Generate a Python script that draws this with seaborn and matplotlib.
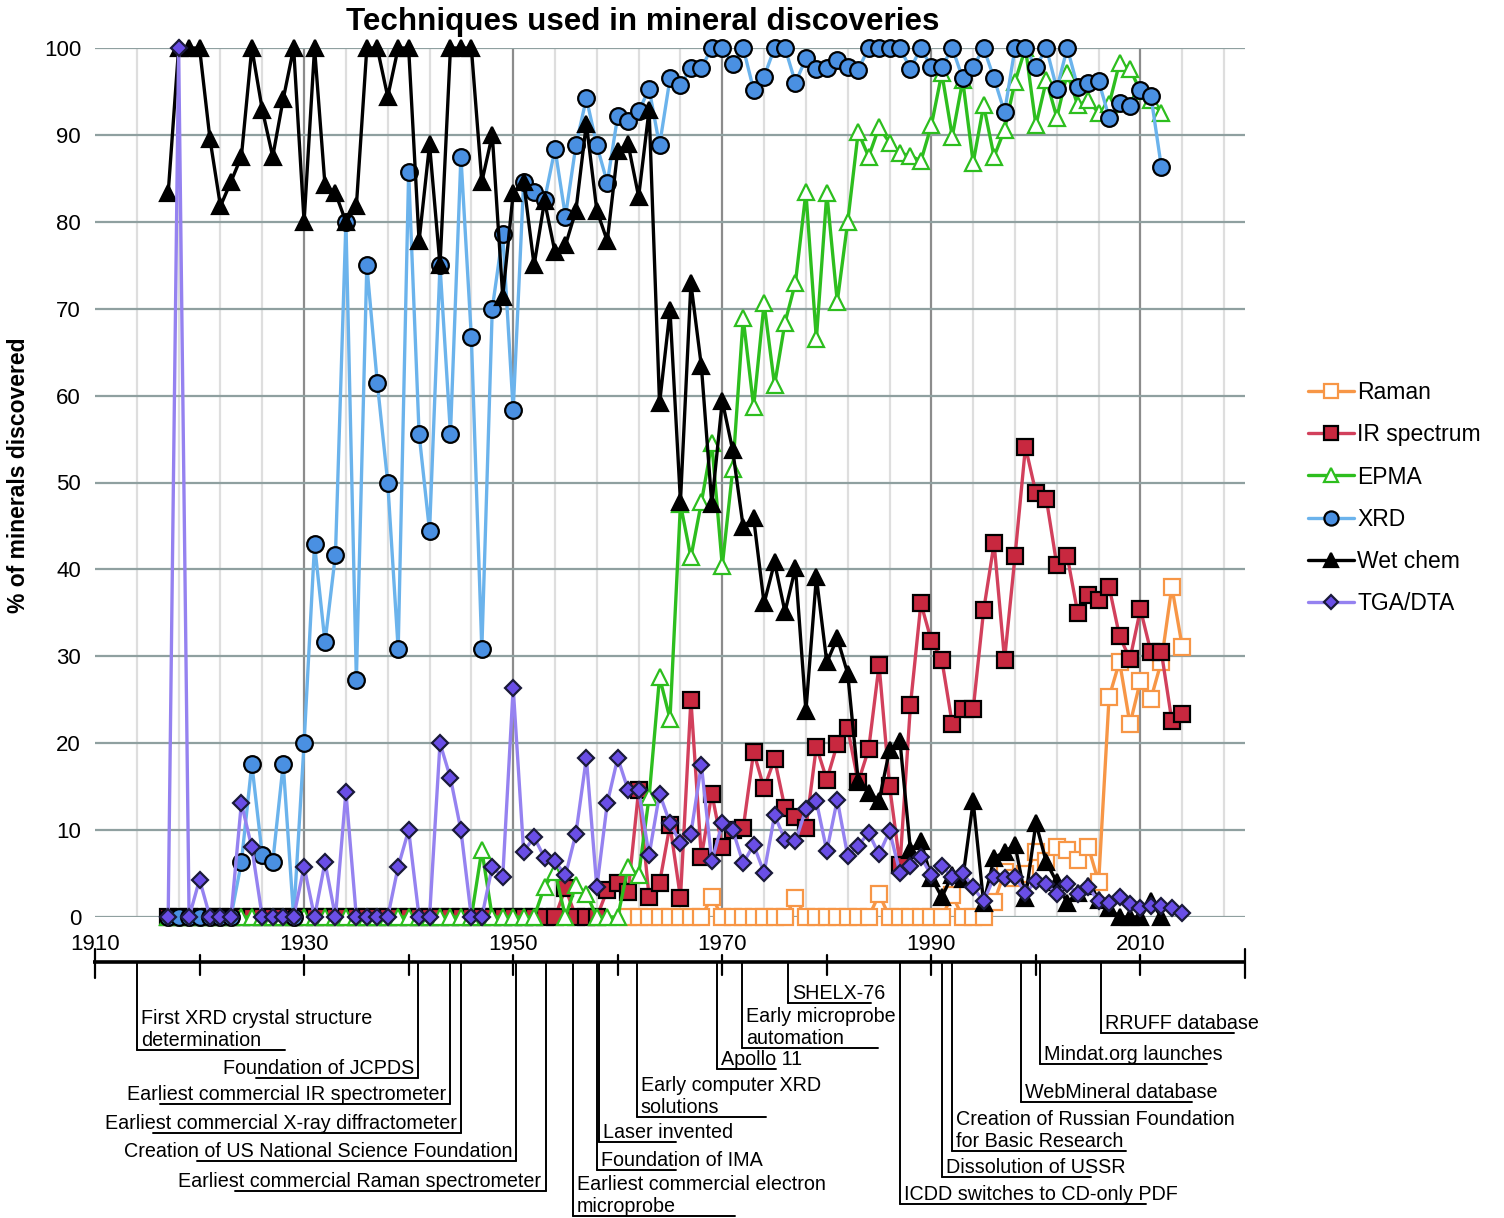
import matplotlib
matplotlib.use("Agg")
import matplotlib.pyplot as plt
from matplotlib.lines import Line2D
import pandas as pd
import seaborn as sns

# ---------------------------------------------------------------- data
years = list(range(1917, 2015))        # IR spectrum, TGA/DTA
years_to_2012 = list(range(1917, 2013))  # Wet chem, XRD, EPMA
raman_years = list(range(1961, 2015))

wet_chem = [83.3, 100, 100, 100, 89.5, 81.8, 84.6, 87.5, 100, 92.9,
            87.5, 94.1, 100, 80, 100, 84.2, 83.3, 80, 81.8, 100,
            100, 94.4, 100, 100, 77.8, 88.9, 75, 100, 100, 100,
            84.6, 90, 71.4, 83.3, 84.6, 75, 82.4, 76.5, 77.3, 81.3,
            91.3, 81.3, 77.8, 88.2, 88.9, 82.9, 92.9, 59.1, 69.8, 47.8,
            72.9, 63.4, 47.5, 59.4, 53.7, 44.9, 45.9, 36.1, 40.8, 35.1,
            40.2, 23.7, 39.1, 29.3, 32.1, 28.0, 15.7, 14.3, 13.4, 19.2,
            20.2, 7.7, 8.7, 4.5, 2.3, 4.8, 4.4, 13.3, 1.6, 6.8,
            7.5, 8.3, 2.2, 10.8, 6.3, 4.0, 1.6, 2.8, 3.6, 2.0,
            1.0, 0, 0, 0, 1.8, 0]

xrd = [0, 0, 0, 0, 0, 0, 0, 6.3, 17.6, 7.1,
       6.3, 17.6, 0, 20, 42.9, 31.6, 41.7, 80, 27.3, 75,
       61.5, 50, 30.8, 85.7, 55.6, 44.4, 75, 55.6, 87.5, 66.7,
       30.8, 70, 78.6, 58.3, 84.6, 83.4, 82.5, 88.4, 80.6, 88.8,
       94.2, 88.8, 84.5, 92.2, 91.6, 92.7, 95.3, 88.8, 96.5, 95.7,
       97.7, 97.7, 100, 100, 98.2, 100, 95.2, 96.7, 100, 100,
       96.0, 98.8, 97.6, 97.7, 98.6, 97.8, 97.5, 100, 100, 100,
       100, 97.6, 100, 97.8, 97.8, 100, 96.5, 97.8, 100, 96.5,
       92.6, 100, 100, 97.8, 100, 95.3, 100, 95.5, 96.0, 96.2,
       92.0, 93.7, 93.3, 95.2, 94.5, 86.3]

epma = [0, 0, 0, 0, 0, 0, 0, 0, 0, 0,
        0, 0, 0, 0, 0, 0, 0, 0, 0, 0,
        0, 0, 0, 0, 0, 0, 0, 0, 0, 0,
        7.7, 0, 0, 0, 0, 0, 3.5, 5.2, 0, 3.7,
        2.7, 0, 0, 0, 5.8, 4.8, 13.8, 27.6, 22.8, 47.5,
        41.4, 47.7, 54.5, 40.4, 51.5, 68.9, 58.7, 70.6, 61.2, 68.4,
        73.0, 83.4, 66.5, 83.3, 70.8, 80.0, 90.3, 87.5, 90.9, 89.1,
        87.9, 87.6, 87.0, 91.1, 97.1, 89.8, 96.3, 86.8, 93.4, 87.5,
        90.6, 96.1, 100, 91.1, 96.3, 92.0, 97.1, 93.4, 94.0, 92.5,
        93.5, 98.3, 97.6, 95.0, 94.0, 92.5]

ir_spectrum = [0, 0, 0, 0, 0, 0, 0, 0, 0, 0,
               0, 0, 0, 0, 0, 0, 0, 0, 0, 0,
               0, 0, 0, 0, 0, 0, 0, 0, 0, 0,
               0, 0, 0, 0, 0, 0, 0, 0, 3.3, 0,
               0, 0, 3.1, 3.9, 2.9, 14.6, 2.3, 3.9, 10.6, 2.2,
               25.0, 6.9, 14.2, 8.1, 10.0, 10.2, 19.0, 14.8, 18.2, 12.5,
               11.5, 10.2, 19.6, 15.8, 19.9, 21.7, 15.5, 19.3, 29.0, 15.1,
               6.0, 24.4, 36.1, 31.8, 29.6, 22.2, 23.9, 23.9, 35.3, 43.0,
               29.6, 41.5, 54.1, 48.8, 48.1, 40.5, 41.5, 35.0, 37.1, 36.5,
               38.0, 32.3, 29.7, 35.4, 30.5, 30.5, 22.6, 23.4]

raman = [0, 0, 0, 0, 0, 0, 0, 0, 2.3, 0,
         0, 0, 0, 0, 0, 0, 2.2, 0, 0, 0,
         0, 0, 0, 0, 2.6, 0, 0, 0, 0, 0,
         0, 2.5, 0, 0, 0, 1.7, 5.2, 4.5, 5.0, 7.5,
         6.5, 8.0, 7.7, 6.6, 8.1, 4.0, 25.3, 29.4, 22.2, 27.2,
         25.1, 29.4, 38.0, 31.1]

tga_dta = [0, 100, 0, 4.3, 0, 0, 0, 13.1, 8.0, 0,
           0, 0, 0, 5.8, 0, 6.3, 0, 14.4, 0, 0,
           0, 0, 5.8, 10.0, 0, 0, 20.0, 16.0, 10.0, 0,
           0, 5.8, 4.6, 26.4, 7.5, 9.2, 6.8, 6.4, 4.8, 9.6,
           18.3, 3.4, 13.1, 18.3, 14.6, 14.6, 7.1, 14.2, 10.8, 8.5,
           9.6, 17.5, 6.4, 10.8, 10.0, 6.2, 8.3, 5.1, 11.7, 8.9,
           8.7, 12.4, 13.3, 7.6, 13.5, 7.0, 8.2, 9.7, 7.2, 9.9,
           5.1, 5.9, 6.9, 4.8, 5.9, 4.6, 5.1, 3.4, 1.8, 4.6,
           4.5, 4.6, 2.8, 4.1, 3.8, 2.6, 3.8, 2.6, 3.5, 1.8,
           1.6, 2.3, 1.5, 1.0, 1.3, 1.3, 1.0, 0.5]

series_names = ["Raman", "IR spectrum", "EPMA", "XRD", "Wet chem", "TGA/DTA"]
series_values = [raman, ir_spectrum, epma, xrd, wet_chem, tga_dta]
series_years = [raman_years, years, years_to_2012, years_to_2012, years_to_2012, years]

# timeline of events below the chart
event_years = [1914.0, 1940.9, 1944.0, 1945.0, 1950.3, 1953.1, 1955.7, 1958.0,
               1958.2, 1961.8, 1969.5, 1971.9, 1976.3, 1987.0, 1991.0, 1992.0,
               1998.6, 2000.4, 2006.2]
event_labels = ["First XRD crystal structure\ndetermination",
                "Foundation of JCPDS",
                "Earliest commercial IR spectrometer",
                "Earliest commercial X-ray diffractometer",
                "Creation of US National Science Foundation",
                "Earliest commercial Raman spectrometer",
                "Earliest commercial electron\nmicroprobe",
                "Foundation of IMA",
                "Laser invented",
                "Early computer XRD\nsolutions",
                "Apollo 11",
                "Early microprobe\nautomation",
                "SHELX-76",
                "ICDD switches to CD-only PDF",
                "Dissolution of USSR",
                "Creation of Russian Foundation\nfor Basic Research",
                "WebMineral database",
                "Mindat.org launches",
                "RRUFF database"]

# ---------------------------------------------------------------- layout / style
event_side = ["R", "L", "L", "L", "L", "L", "R", "R", "R", "R",
              "R", "R", "R", "R", "R", "R", "R", "R", "R"]
event_rule_y = [1050, 1078, 1104, 1133, 1161, 1191, 1216, 1170, 1142, 1117,
                1069, 1048, 1003, 1204, 1177, 1151, 1102, 1064, 1033]
event_rule_end = [1928.2, 1925.4, 1916.2, 1915.5, 1919.8, 1923.4, 1971.2, 1965.6,
                  1965.6, 1974.2, 1975.1, 1984.9, 1984.2, 2010.5, 2005.3, 2008.6,
                  2014.9, 2016.4, 2018.9]

styles = {
    "Raman":       dict(color="#F79646", marker="s", markersize=11.5,
                        markerfacecolor="white", markeredgecolor="#F79646", z=3),
    "IR spectrum": dict(color="#D2405C", marker="s", markersize=11.5,
                        markerfacecolor="#C8283F", markeredgecolor="black", z=4),
    "EPMA":        dict(color="#2DBE1E", marker="^", markersize=12,
                        markerfacecolor="white", markeredgecolor="#2DBE1E", z=5),
    "XRD":         dict(color="#6BB3EC", marker="o", markersize=12,
                        markerfacecolor="#4A90E2", markeredgecolor="black", z=6),
    "Wet chem":    dict(color="black", marker="^", markersize=12,
                        markerfacecolor="black", markeredgecolor="black", z=7),
    "TGA/DTA":     dict(color="#9582F0", marker="D", markersize=8.5,
                        markerfacecolor="#6A4EE6", markeredgecolor="#1a1a3a", z=8),
}

sns.set_style("white")
plt.rcParams["font.family"] = ["Liberation Sans", "DejaVu Sans"]
plt.rcParams["text.color"] = "black"
plt.rcParams["axes.labelcolor"] = "black"
plt.rcParams["ytick.color"] = "black"
plt.rcParams["xtick.color"] = "black"

W, H = 1504, 1218
fig = plt.figure(figsize=(W / 100, H / 100), dpi=100)
ax = fig.add_axes([95 / W, 1 - 917 / H, 1150 / W, 869 / H])

frames = []
for name, yrs, vals in zip(series_names, series_years, series_values):
    frames.append(pd.DataFrame({"year": yrs, "pct": vals, "series": name}))
data = pd.concat(frames, ignore_index=True)

for name in series_names:
    st = styles[name]
    sub = data[data["series"] == name]
    sns.lineplot(data=sub, x="year", y="pct", ax=ax, color=st["color"],
                 linewidth=2.4, marker=st["marker"], markersize=st["markersize"],
                 markerfacecolor=st["markerfacecolor"],
                 markeredgecolor=st["markeredgecolor"], markeredgewidth=1.6,
                 clip_on=False, zorder=st["z"], legend=False, errorbar=None)

ax.set_xlim(1910, 2020)
ax.set_ylim(0, 100)
ax.set_xticks([1930, 1950, 1970, 1990, 2010])
ax.set_xticks(list(range(1914, 2020, 4)), minor=True)
ax.set_yticks(range(0, 101, 10))
ax.set_xticklabels([])
ax.tick_params(axis="x", which="both", length=0)
ax.tick_params(axis="y", length=5, width=1.5, color="#8A9A9A", labelsize=16,
               labelcolor="black", pad=5)
ax.grid(False)
ax.xaxis.grid(True, which="major", color="#8C8C8C", linewidth=1.6)
ax.xaxis.grid(True, which="minor", color="#DEDEDE", linewidth=1.6)
ax.yaxis.grid(True, which="major", color="#8FA0A0", linewidth=1.6)
ax.set_axisbelow(True)
for sp in ax.spines.values():
    sp.set_visible(False)
ax.set_xlabel("")
ax.set_ylabel("% of minerals discovered", fontsize=16.5, fontweight="bold")
ax.yaxis.set_label_coords((30 - 95) / 1150, 0.508)

fig.text(643 / W, 1 - 22 / H, "Techniques used in mineral discoveries",
         ha="center", va="center", fontsize=22.6, fontweight="bold")

# legend
handles = []
for name in series_names:
    st = styles[name]
    handles.append(Line2D([0], [0], color=st["color"], linewidth=2.4,
                          marker=st["marker"], markersize=st["markersize"] * 0.85,
                          markerfacecolor=st["markerfacecolor"],
                          markeredgecolor=st["markeredgecolor"],
                          markeredgewidth=1.6))
fig.legend(handles, series_names, loc="upper left",
           bbox_to_anchor=(1308 / W, 1 - 381 / H), frameon=False,
           fontsize=16.5, handlelength=2.0, handletextpad=0.15,
           labelspacing=0.84, borderpad=0, borderaxespad=0)

# ---------------------------------------------------------------- timeline
tax = fig.add_axes([95 / W, 0, 1150 / W, 295 / H])
tax.set_xlim(1910, 2020)
tax.set_ylim(1218, 923)
tax.axis("off")

axis_y = 962
tax.plot([1909.8, 2020], [axis_y, axis_y], color="black", linewidth=2.6,
         solid_capstyle="butt", clip_on=False)
for yr in range(1910, 2021, 10):
    top, bot = (949, 978) if yr in (1910, 2020) else (955, 975)
    tax.plot([yr, yr], [top, bot], color="black", linewidth=1.6, clip_on=False)
for yr in range(1910, 2011, 20):
    tax.text(yr, 945, str(yr), ha="center", va="center", fontsize=16)

for yr, label, side, ry, rend in zip(event_years, event_labels, event_side,
                                     event_rule_y, event_rule_end):
    tax.plot([yr, yr], [axis_y, ry], color="black", linewidth=1.4, clip_on=False)
    tax.plot([yr, rend], [ry, ry], color="black", linewidth=1.4, clip_on=False)
    if side == "R":
        tax.text(yr + 0.4, ry - 4, label, ha="left", va="baseline",
                 fontsize=14.2, clip_on=False)
    else:
        tax.text(yr - 0.4, ry - 4, label, ha="right", va="baseline",
                 fontsize=14.2, clip_on=False)

fig.savefig("out.png", dpi=100)
